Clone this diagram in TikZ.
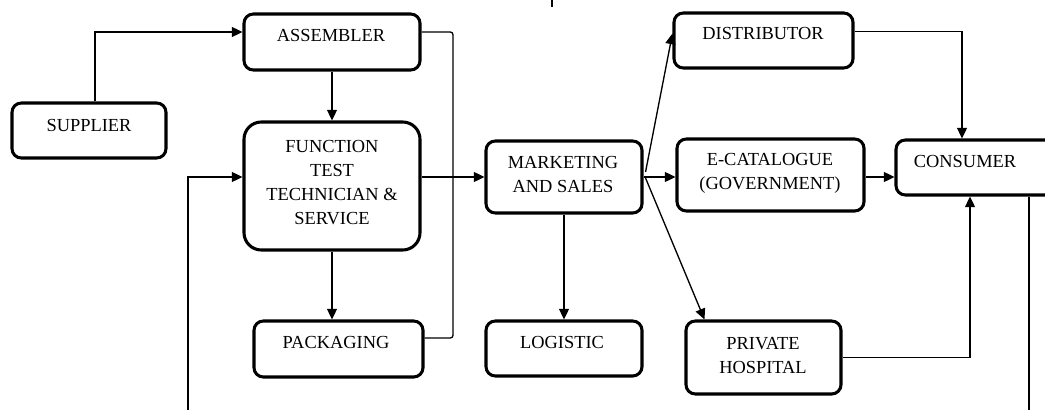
\documentclass[tikz,border=0pt]{standalone}
\usepackage{fontspec}
\setmainfont{Liberation Serif}
\usetikzlibrary{arrows.meta,calc}
\tikzset{
  bx/.style 2 args={draw=black, line width=2.3pt, rounded corners=7pt, inner sep=0pt,
    minimum width=#1*0.75pt, minimum height=#2*0.75pt},
  txt/.style={inner sep=0pt, align=center, font=\fontsize{13.8}{18}\selectfont, text=black},
  conn/.style={draw=black, line width=1pt},
  arr/.style={conn, -{Triangle[length=8pt,width=7.5pt]}}
}
\begin{document}
\begin{tikzpicture}[x=0.75pt,y=-0.75pt]
\clip (0,0) rectangle (1045,410);
% boxes
\node[bx={154}{55}] (sup) at (89,130.5) {};
\node[bx={176}{56}] (asm) at (332,42) {};
\node[bx={176}{128}, rounded corners=13pt] (fun) at (332,186) {};
\node[bx={169}{56}] (pack) at (338.5,349) {};
\node[bx={156}{72}] (mkt) at (564,177) {};
\node[bx={156}{55}] (log) at (564,348.5) {};
\node[bx={179}{55}] (dist) at (763.5,40.5) {};
\node[bx={187}{72}] (ecat) at (770.5,175) {};
\node[bx={164}{55}] (cons) at (978,167.5) {};
\node[bx={155}{73}] (hosp) at (763.5,357.5) {};
% texts
\node[txt] (tsup) at (89,125) {SUPPLIER};
\node[txt] (tasm) at (331,35) {ASSEMBLER};
\node[txt] (tfun) at (332,183) {FUNCTION\\TEST\\TECHNICIAN \&\\SERVICE};
\node[txt] (tpack) at (336,342) {PACKAGING};
\node[txt] (tmkt) at (563,174.5) {MARKETING\\AND SALES};
\node[txt] (tlog) at (562,342) {LOGISTIC};
\node[txt] (tdist) at (763,33) {DISTRIBUTOR};
\node[txt] (tecat) at (770,173) {E-CATALOGUE\\(GOVERNMENT)};
\node[txt] (tcons) at (965,161) {CONSUMER};
\node[txt] (thosp) at (763,355.5) {PRIVATE\\HOSPITAL};
% coordinates
\coordinate (brk) at (453,338);
\coordinate (fb) at (188,410);
\coordinate (cb) at (1029,410);
\coordinate (tk) at (552,0);
\coordinate (e1) at ($(ecat.east)+(0,2)$);
% connectors
\draw[arr] ($(sup.north)+(6,0)$) |- ($(asm.west)+(0,-10)$);
\draw[arr] (asm.south) -- (fun.north);
\draw[conn, rounded corners=2pt] ($(asm.east)+(0,-10)$) -| (brk) -- ($(pack.east)+(0,-11)$);
\draw[arr] ($(fun.east)+(0,-9)$) -- (mkt.west);
\draw[arr] (fun.south) -- (fun.south |- pack.north);
\draw[arr] (fb) |- ($(fun.west)+(0,-9)$);
\draw[arr] (mkt.south) -- (log.north);
\draw[arr] (mkt.east) -- (mkt.east -| ecat.west);
\draw[arr] ($(mkt.east)+(2,-5)$) -- ($(dist.west)+(0,-7)$);
\draw[arr] ($(mkt.east)+(2,1)$) -- ($(hosp.north west)+(20,0)$);
\draw[arr] ($(dist.east)+(0,-9)$) -| ($(cons.north)+(-16,0)$);
\draw[arr] (e1) -- (e1 -| cons.west);
\draw[arr] (hosp.east) -| ($(cons.south)+(-8,0)$);
\draw[conn] (cb) -- (cb |- cons.south);
\draw[conn, line width=1.5pt] (tk) -- ++(0,7);
\end{tikzpicture}
\end{document}
